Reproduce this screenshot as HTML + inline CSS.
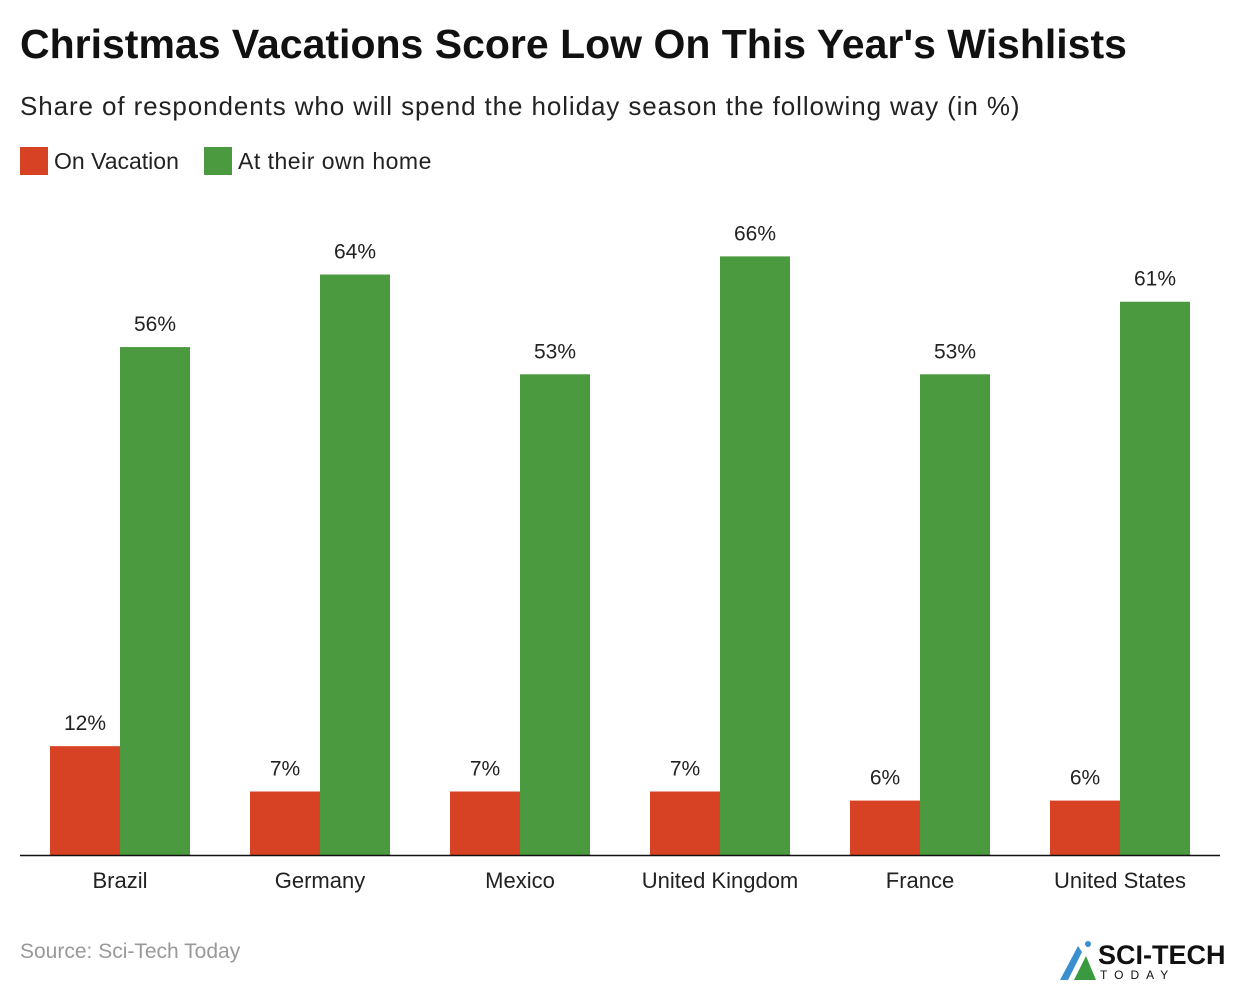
<!DOCTYPE html>
<html><head><meta charset="utf-8"><style>
body{margin:0;width:1240px;height:988px;background:#fff;font-family:"Liberation Sans",sans-serif;position:relative;overflow:hidden}
.t{position:absolute;white-space:nowrap}
</style></head><body>
<div class="t" style="left:20px;top:21px;font-size:41px;font-weight:bold;color:#111;letter-spacing:0px">Christmas Vacations Score Low On This Year's Wishlists</div>
<div class="t" style="left:20px;top:91px;font-size:26px;color:#222;letter-spacing:0.9px">Share of respondents who will spend the holiday season the following way (in %)</div>
<div class="t" style="left:20px;top:147px;font-size:23px;color:#222"><span style="display:inline-block;width:28px;height:28px;background:#d84224;vertical-align:-6px;margin-right:6px"></span>On Vacation</div>
<div class="t" style="left:204px;top:147px;font-size:23px;color:#222;letter-spacing:0.5px"><span style="display:inline-block;width:28px;height:28px;background:#4b9a3f;vertical-align:-6px;margin-right:6px"></span>At their own home</div>
<svg id="chart" width="1240" height="988" style="position:absolute;left:0;top:0"></svg>
<div class="t" style="left:20px;top:940px;font-size:21px;color:#999">Source: Sci-Tech Today</div>
<div class="t" style="left:1060px;top:938px;">
<svg width="36" height="44" style="vertical-align:top"><polygon points="0,42 18,8 22,14 8,42" fill="#3a8fd0"/><polygon points="14,42 26,18 36,42" fill="#3a9a3f"/><circle cx="28" cy="6" r="3" fill="#3a8fd0"/></svg>
<span style="position:absolute;left:38px;top:2px;font-size:27px;font-weight:bold;color:#111">SCI-TECH</span>
<span style="position:absolute;left:40px;top:30px;font-size:12px;letter-spacing:7px;color:#111">TODAY</span>
</div>
<script>
const categories=["Brazil","Germany","Mexico","United Kingdom","France","United States"];
const vacation=[12,7,7,7,6,6];
const home=[56,64,53,66,53,61];
const svg=document.getElementById('chart');
const NS='http://www.w3.org/2000/svg';
const base=855,scale=9.07;
const y=v=>base-v*scale;
const cx=i=>120+i*200;
function mk(tag,attrs){const e=document.createElementNS(NS,tag);for(const k in attrs)e.setAttribute(k,attrs[k]);svg.appendChild(e);return e;}
categories.forEach((c,i)=>{
  [[vacation,'#d84224',-70,'vacation'],[home,'#4b9a3f',0,'home']].forEach(([arr,col,off,nm])=>{
    const r=mk('rect',{x:cx(i)+off,y:y(arr[i]),width:70,height:arr[i]*scale,fill:col});
    
    
    const t=mk('text',{x:cx(i)+off+35,y:y(arr[i])-16,'text-anchor':'middle','font-size':21,fill:'#222','font-family':'Liberation Sans'});
    t.textContent=arr[i]+'%';
    
    
  });
  const l=mk('text',{x:cx(i),y:888,'text-anchor':'middle','font-size':22,fill:'#222','font-family':'Liberation Sans'});
  l.textContent=c;
  
  
});
const ax=mk('line',{x1:20,x2:1220,y1:base+0.5,y2:base+0.5,stroke:'#111','stroke-width':1.5});


</script>
</body></html>
